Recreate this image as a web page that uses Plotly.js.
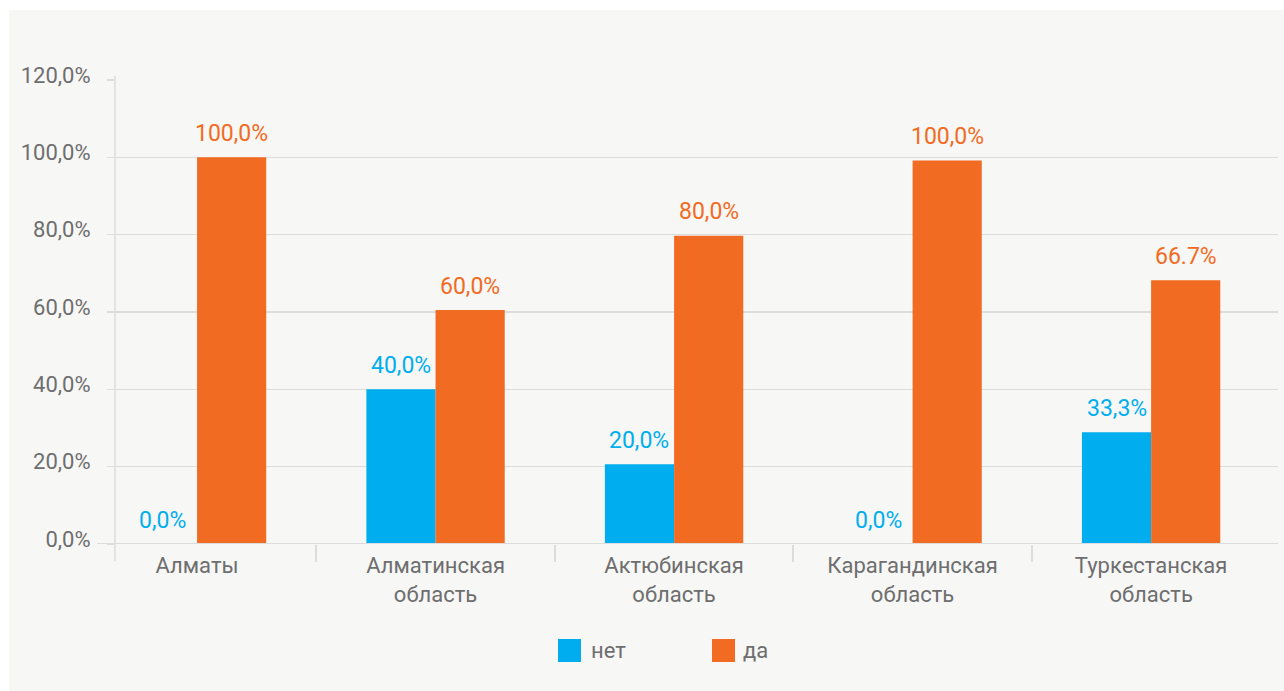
<!DOCTYPE html>
<html>
<head>
<meta charset="utf-8">
<script src="https://cdn.plot.ly/plotly-3.0.1.min.js"></script>
<style>
html,body{margin:0;padding:0;background:#ffffff;width:1284px;height:691px;overflow:hidden;}
#panel{position:absolute;left:9px;top:10px;width:1275px;height:681px;background:#f7f7f6;}
#chart{position:absolute;left:0;top:0;width:1284px;height:691px;}
</style>
</head>
<body>
<div id="panel"></div>
<div id="chart"></div>
<script>
// ---- data ----
const categories = ["Алматы", "Алматинская<br>область", "Актюбинская<br>область", "Карагандинская<br>область", "Туркестанская<br>область"];
const seriesNames = ["нет", "да"];
const valuesNo  = [0, 40.0, 20.6, 0, 28.9];
const valuesYes = [100, 60.5, 79.7, 99.2, 68.2];
const labelsNo  = ["0,0%", "40,0%", "20,0%", "0,0%", "33,3%"];
const labelsYes = ["100,0%", "60,0%", "80,0%", "100,0%", "66.7%"];
const yTickVals = [0, 20, 40, 60, 80, 100, 120];
const yTickText = ["0,0%", "20,0%", "40,0%", "60,0%", "80,0%", "100,0%", "120,0%"];

// ---- style ----
const colors = ["#00aeef", "#f26b22"];
const textGrey = "#6e6e6e";
const gridGrey = "#dcdcdc";
const font = "Roboto, 'Open Sans', sans-serif";
const bargap = 0.42;
const xIdx = categories.map((_, i) => i);

const traces = [
  {type: "bar", name: seriesNames[0], x: xIdx, y: valuesNo, marker: {color: colors[0]}, showlegend: false, hoverinfo: "none"},
  {type: "bar", name: seriesNames[1], x: xIdx, y: valuesYes, marker: {color: colors[1]}, showlegend: false, hoverinfo: "none"}
];

const off = (1 - bargap) / 4;
const annotations = [];
[valuesNo, valuesYes].forEach((vals, s) => {
  const labs = s === 0 ? labelsNo : labelsYes;
  vals.forEach((v, i) => {
    annotations.push({
      x: i + (s === 0 ? -off : off), y: v, xref: "x", yref: "y",
      text: labs[i], showarrow: false, yanchor: "middle", yshift: 24,
      font: {family: font, size: 23, color: colors[s]}
    });
  });
});

// custom legend (paper coords)
const legendItems = [
  {x0: 0.3809, x1: 0.4007, tx: 0.4076},
  {x0: 0.5133, x1: 0.5331, tx: 0.5383}
];
const shapes = [
  {type: "line", xref: "paper", yref: "paper", x0: 0, x1: 0, y0: -0.0366, y1: 1.0086, line: {color: gridGrey, width: 1.5}},
  {type: "line", xref: "paper", yref: "y", x0: -0.0155, x1: 1, y0: 0, y1: 0, line: {color: gridGrey, width: 2}}
];
legendItems.forEach((li, s) => {
  shapes.push({type: "rect", xref: "paper", yref: "paper", x0: li.x0, x1: li.x1, y0: -0.2543, y1: -0.2047,
    fillcolor: colors[s], line: {width: 0}});
  annotations.push({xref: "paper", yref: "paper", x: li.tx, y: -0.2295, xanchor: "left", yanchor: "middle",
    text: seriesNames[s], showarrow: false, font: {family: font, size: 22, color: textGrey}});
});

const layout = {
  width: 1284, height: 691,
  paper_bgcolor: "rgba(0,0,0,0)", plot_bgcolor: "rgba(0,0,0,0)",
  margin: {l: 115, r: 6, t: 80, b: 147},
  barmode: "group", bargap: bargap, bargroupgap: 0,
  font: {family: font, size: 22, color: textGrey},
  xaxis: {
    range: [-0.344, 4.532], tickmode: "array", tickvals: xIdx, ticktext: categories,
    ticks: "", showgrid: false, zeroline: false, showline: false,
    tickfont: {family: font, size: 22, color: textGrey},
    ticklabelstandoff: 6,
    minor: {tickmode: "array", tickvals: [0.5, 1.5, 2.5, 3.5], ticks: "outside", ticklen: 17, tickwidth: 2, tickcolor: gridGrey, showgrid: false}
  },
  yaxis: {
    range: [0, 120], tickmode: "array", tickvals: yTickVals, ticktext: yTickText,
    ticks: "outside", ticklen: 7, tickwidth: 1.5, tickcolor: gridGrey,
    showgrid: true, gridcolor: gridGrey, gridwidth: 1.5,
    zeroline: false, showline: false,
    tickfont: {family: font, size: 22, color: textGrey},
    ticklabelstandoff: 12, ticklabelshift: -5
  },
  annotations: annotations,
  shapes: shapes
};

Plotly.newPlot("chart", traces, layout, {displayModeBar: false, staticPlot: true});
</script>
</body>
</html>
